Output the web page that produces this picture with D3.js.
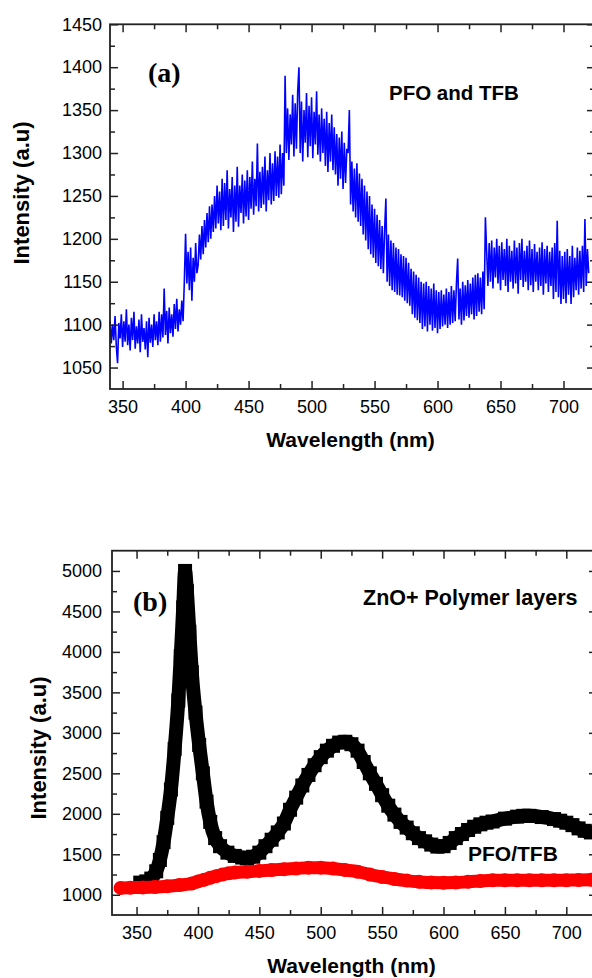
<!DOCTYPE html>
<html>
<head>
<meta charset="utf-8">
<script src="https://cdn.jsdelivr.net/npm/d3@7"></script>
<style>
body { margin: 0; background: #fff; }
svg { display: block; }
</style>
</head>
<body>
<div id="chart"></div>
<script>
// panel (a) - PFO and TFB, one reading per nm from 340 to 720 nm
var blueStart = 340;
var blueIntensity = [
  1105, 1078, 1100, 1082, 1110, 1075, 1055, 1102, 1084, 1112,
  1074, 1104, 1080, 1118, 1076, 1100, 1070, 1108, 1082, 1115,
  1072, 1098, 1078, 1106, 1068, 1112, 1080, 1096, 1071, 1104,
  1062, 1108, 1079, 1100, 1074, 1112, 1082, 1104, 1076, 1115,
  1080, 1112, 1085, 1142, 1088, 1116, 1078, 1120, 1090, 1112,
  1086, 1124, 1095, 1130, 1092, 1118, 1100, 1128, 1104, 1150,
  1206, 1148, 1185, 1140, 1190, 1128, 1178, 1150, 1195, 1160,
  1170, 1205, 1176, 1215, 1182, 1222, 1190, 1230, 1196, 1238,
  1200, 1240, 1208, 1250, 1212, 1262, 1218, 1255, 1210, 1270,
  1215, 1265, 1222, 1280, 1212, 1258, 1225, 1272, 1208, 1262,
  1220, 1284, 1214, 1262, 1230, 1275, 1218, 1268, 1226, 1280,
  1222, 1272, 1235, 1290, 1228, 1270, 1238, 1311, 1232, 1278,
  1236, 1284, 1240, 1296, 1232, 1280, 1245, 1300, 1240, 1288,
  1244, 1302, 1250, 1296, 1248, 1310, 1252, 1300, 1262, 1390,
  1300, 1352, 1292, 1345, 1310, 1368, 1296, 1358, 1305, 1372,
  1400, 1300, 1360, 1290, 1350, 1312, 1370, 1295, 1355, 1308,
  1365, 1294, 1348, 1310, 1372, 1298, 1345, 1290, 1352, 1300,
  1340, 1285, 1348, 1278, 1335, 1290, 1345, 1280, 1330, 1275,
  1322, 1262, 1318, 1270, 1325, 1258, 1312, 1265, 1305, 1300,
  1350, 1240, 1290, 1232, 1282, 1225, 1288, 1220, 1276, 1215,
  1270, 1205, 1262, 1198, 1255, 1188, 1250, 1182, 1240, 1178,
  1235, 1172, 1228, 1168, 1222, 1165, 1215, 1160, 1210, 1247,
  1150, 1205, 1145, 1198, 1140, 1195, 1138, 1190, 1135, 1188,
  1134, 1182, 1132, 1180, 1128, 1178, 1125, 1172, 1122, 1165,
  1112, 1162, 1108, 1158, 1105, 1155, 1102, 1150, 1095, 1148,
  1098, 1150, 1092, 1145, 1100, 1142, 1093, 1148, 1096, 1140,
  1090, 1138, 1095, 1140, 1098, 1135, 1100, 1142, 1096, 1138,
  1100, 1145, 1102, 1140, 1104, 1148, 1177, 1106, 1142, 1100,
  1150, 1105, 1146, 1110, 1152, 1108, 1148, 1112, 1155, 1106,
  1158, 1110, 1160, 1115, 1155, 1112, 1162, 1118, 1225, 1185,
  1145, 1195, 1150, 1198, 1142, 1190, 1155, 1200, 1148, 1192,
  1140, 1196, 1152, 1188, 1145, 1200, 1138, 1192, 1150, 1186,
  1142, 1198, 1148, 1190, 1136, 1195, 1152, 1200, 1144, 1186,
  1150, 1192, 1140, 1198, 1146, 1188, 1138, 1194, 1150, 1185,
  1140, 1190, 1145, 1196, 1135, 1188, 1148, 1192, 1138, 1185,
  1145, 1190, 1130, 1195, 1138, 1221, 1132, 1186, 1124, 1180,
  1130, 1185, 1125, 1188, 1135, 1180, 1124, 1192, 1132, 1178,
  1140, 1190, 1135, 1186, 1142, 1192, 1138, 1223, 1145, 1188,
  1160
];

// panel (b) - ZnO + polymer layers (black) and PFO/TFB (red)
var blackNm = [353, 358, 362, 366, 369, 372, 375, 378, 381, 384, 386, 388, 389.5, 391, 393, 395, 398,
  401, 404, 407, 410, 414, 418, 424, 430, 436, 440, 445, 450, 455, 460, 465, 470, 475, 480, 485,
  490, 495, 500, 505, 510, 515, 520, 525, 530, 535, 540, 545, 550, 555, 560, 565, 570, 575, 580,
  585, 590, 595, 600, 605, 610, 615, 620, 625, 630, 635, 640, 650, 660, 665, 670, 680, 690, 695,
  700, 705, 710, 715, 720];
var blackIntensity = [1150, 1165, 1200, 1290, 1430, 1650, 1950, 2300, 2800, 3400, 3950, 4550, 5000, 4750, 4250, 3750, 3250,
  2850, 2500, 2150, 1900, 1700, 1600, 1520, 1480, 1460, 1450, 1470, 1520, 1600, 1680, 1770, 1880, 2050, 2200, 2350,
  2480, 2600, 2700, 2780, 2840, 2880, 2890, 2860, 2780, 2640, 2500, 2370, 2230, 2100, 1990, 1900, 1830, 1760, 1700,
  1660, 1620, 1595, 1600, 1640, 1700, 1750, 1800, 1840, 1870, 1890, 1905, 1940, 1965, 1975, 1975, 1960, 1935, 1915,
  1890, 1860, 1820, 1790, 1770];

var redNm = [337, 345, 355, 365, 375, 385, 395, 400, 405, 410, 415, 420, 425, 430, 440, 450, 460, 470, 480, 490,
  500, 510, 520, 530, 540, 550, 560, 570, 580, 590, 600, 610, 620, 630, 640, 650, 660, 670, 680, 690, 700, 710, 720];
var redIntensity = [1085, 1088, 1090, 1095, 1105, 1120, 1140, 1165, 1185, 1210, 1230, 1250, 1265, 1275, 1285, 1295, 1305, 1315, 1325, 1335,
  1335, 1325, 1305, 1285, 1250, 1220, 1195, 1175, 1160, 1150, 1148, 1150, 1160, 1170, 1178, 1178, 1178, 1180, 1178, 1178, 1180, 1182, 1185];

// ticks
var xTicks = [350, 400, 450, 500, 550, 600, 650, 700];
var xMinorTicks = [375, 425, 475, 525, 575, 625, 675];
var yTicksA = [1050, 1100, 1150, 1200, 1250, 1300, 1350, 1400, 1450];
var yMinorA = [1075, 1125, 1175, 1225, 1275, 1325, 1375, 1425];
var yTicksB = [1000, 1500, 2000, 2500, 3000, 3500, 4000, 4500, 5000];
var yMinorB = [1250, 1750, 2250, 2750, 3250, 3750, 4250, 4750];

var sans = "'Liberation Sans', Arial, Helvetica, sans-serif";
var serif = "'Liberation Serif', 'Times New Roman', serif";

var svg = d3.select("#chart").append("svg")
  .attr("width", 592)
  .attr("height", 978);

svg.append("rect").attr("width", 592).attr("height", 978).attr("fill", "#fff");

function panel(p) {
  var x = d3.scaleLinear().domain(p.xDomain).range([p.left, p.right]);
  var y = d3.scaleLinear().domain(p.yDomain).range([p.bottom, p.top]);
  return {x: x, y: y};
}

function styleAxis(g) {
  g.select(".domain").remove();
  g.selectAll(".tick line").attr("stroke", "#222").attr("stroke-width", 1.5);
  g.selectAll("text")
    .attr("font-family", sans)
    .attr("font-size", 18)
    .attr("fill", "#000");
}

function drawFrame(p, s) {
  var fmt = d3.format("d");
  var b = svg.append("g").attr("transform", "translate(0," + p.bottom + ")")
    .call(d3.axisBottom(s.x).tickValues(xTicks).tickSize(-8).tickPadding(11).tickFormat(fmt));
  styleAxis(b);
  b = svg.append("g").attr("transform", "translate(0," + p.bottom + ")")
    .call(d3.axisBottom(s.x).tickValues(xMinorTicks).tickSize(-5).tickFormat(""));
  styleAxis(b);
  b = svg.append("g").attr("transform", "translate(0," + p.top + ")")
    .call(d3.axisTop(s.x).tickValues(xTicks).tickSize(-8).tickFormat(""));
  styleAxis(b);
  b = svg.append("g").attr("transform", "translate(0," + p.top + ")")
    .call(d3.axisTop(s.x).tickValues(xMinorTicks).tickSize(-5).tickFormat(""));
  styleAxis(b);

  b = svg.append("g").attr("transform", "translate(" + p.left + ",0)")
    .call(d3.axisLeft(s.y).tickValues(p.yTicks).tickSize(-8).tickPadding(p.yPad).tickFormat(fmt));
  styleAxis(b);
  b = svg.append("g").attr("transform", "translate(" + p.left + ",0)")
    .call(d3.axisLeft(s.y).tickValues(p.yMinor).tickSize(-5).tickFormat(""));
  styleAxis(b);
  b = svg.append("g").attr("transform", "translate(" + p.right + ",0)")
    .call(d3.axisRight(s.y).tickValues(p.yTicks).tickSize(-8).tickFormat(""));
  styleAxis(b);
  b = svg.append("g").attr("transform", "translate(" + p.right + ",0)")
    .call(d3.axisRight(s.y).tickValues(p.yMinor).tickSize(-5).tickFormat(""));
  styleAxis(b);

  svg.append("rect")
    .attr("x", p.left).attr("y", p.top)
    .attr("width", p.right - p.left).attr("height", p.bottom - p.top)
    .attr("fill", "none").attr("stroke", "#222").attr("stroke-width", 1.8);

  svg.append("text")
    .attr("x", (p.left + 591) / 2).attr("y", p.xTitleY)
    .attr("text-anchor", "middle")
    .attr("font-family", sans).attr("font-weight", "bold").attr("font-size", 21)
    .text("Wavelength (nm)");

  svg.append("text")
    .attr("transform", "translate(" + p.yTitleX + "," + p.yTitleY + ") rotate(-90)")
    .attr("text-anchor", "middle")
    .attr("font-family", sans).attr("font-weight", "bold").attr("font-size", 22)
    .text("Intensity (a.u)");
}

// ---- panel (a)
var pA = {left: 110, right: 595, top: 24.3, bottom: 389, xDomain: [340, 725], yDomain: [1025, 1450],
  yTicks: yTicksA, yMinor: yMinorA, yPad: 8, xTitleY: 447, yTitleX: 29, yTitleY: 193};
var sA = panel(pA);

var lineA = d3.line()
  .x(function(d, i) { return sA.x(blueStart + i); })
  .y(function(d) { return sA.y(d); });

svg.append("path")
  .datum(blueIntensity)
  .attr("d", lineA)
  .attr("fill", "none")
  .attr("stroke", "#0000ff")
  .attr("stroke-width", 1.6)
  .attr("stroke-linejoin", "bevel");

drawFrame(pA, sA);

svg.append("text").attr("x", 148).attr("y", 82)
  .attr("font-family", serif).attr("font-weight", "bold").attr("font-size", 28)
  .text("(a)");
svg.append("text").attr("x", 389).attr("y", 100)
  .attr("font-family", sans).attr("font-weight", "bold").attr("font-size", 20.5)
  .text("PFO and TFB");

// ---- panel (b)
var pB = {left: 112, right: 597, top: 550.7, bottom: 915, xDomain: [330, 725], yDomain: [750, 5250],
  yTicks: yTicksB, yMinor: yMinorB, yPad: 10, xTitleY: 973, yTitleX: 45.5, yTitleY: 748};
var sB = panel(pB);

var black = blackNm.map(function(d, i) { return [d, blackIntensity[i]]; });
var red = redNm.map(function(d, i) { return [d, redIntensity[i]]; });

var lineB = d3.line()
  .curve(d3.curveMonotoneX)
  .x(function(d) { return sB.x(d[0]); })
  .y(function(d) { return sB.y(d[1]); });

svg.append("path")
  .datum(black)
  .attr("d", lineB)
  .attr("fill", "none")
  .attr("stroke", "#000")
  .attr("stroke-width", 14)
  .attr("stroke-linejoin", "round");

svg.selectAll(".sq")
  .data(black)
  .enter()
  .append("rect")
    .attr("class", "sq")
    .attr("x", function(d) { return sB.x(d[0]) - 7; })
    .attr("y", function(d) { return sB.y(d[1]) - 7; })
    .attr("width", 14)
    .attr("height", 14)
    .attr("fill", "#000");

svg.append("path")
  .datum(red)
  .attr("d", lineB)
  .attr("fill", "none")
  .attr("stroke", "#ff0000")
  .attr("stroke-width", 13)
  .attr("stroke-linecap", "round")
  .attr("stroke-linejoin", "round");

svg.selectAll(".dot")
  .data(red)
  .enter()
  .append("circle")
    .attr("class", "dot")
    .attr("cx", function(d) { return sB.x(d[0]); })
    .attr("cy", function(d) { return sB.y(d[1]); })
    .attr("r", 7)
    .attr("fill", "#ff0000");

drawFrame(pB, sB);

svg.append("text").attr("x", 133).attr("y", 611)
  .attr("font-family", serif).attr("font-weight", "bold").attr("font-size", 28)
  .text("(b)");
svg.append("text").attr("x", 363).attr("y", 605)
  .attr("font-family", sans).attr("font-weight", "bold").attr("font-size", 21.5)
  .text("ZnO+ Polymer layers");
svg.append("text").attr("x", 468).attr("y", 861)
  .attr("font-family", sans).attr("font-weight", "bold").attr("font-size", 21)
  .text("PFO/TFB");
</script>
</body>
</html>
